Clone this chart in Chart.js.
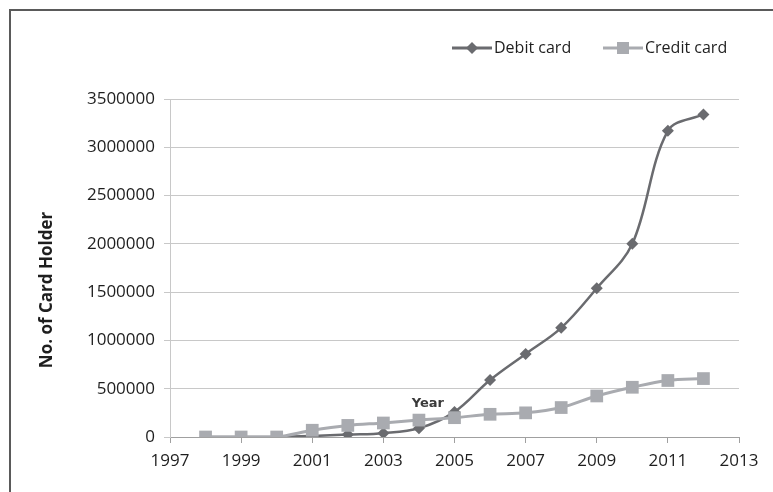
<!DOCTYPE html>
<html>
<head>
<meta charset="utf-8">
<script src="https://cdn.jsdelivr.net/npm/chart.js@4"></script>
<style>
    html, body { margin: 0; padding: 0; background: #fff; }
    #wrap { position: relative; width: 773px; height: 492px; }
    #frame {
        position: absolute; left: 9px; top: 9px; right: 0; bottom: 0;
        border-top: 2px solid #5a5a5a; border-left: 2px solid #5a5a5a;
        pointer-events: none;
    }
</style>
</head>
<body>
<div id="wrap">
    <canvas id="cardChart" width="773" height="492"></canvas>
    <div id="frame"></div>
</div>
<script>
// Card holders per year
const years = [1998, 1999, 2000, 2001, 2002, 2003, 2004, 2005, 2006, 2007, 2008, 2009, 2010, 2011, 2012];
const debitCard = [0, 0, 0, 10000, 25000, 40000, 90000, 260000, 590000, 860000, 1130000, 1540000, 2000000, 3170000, 3340000];
const creditCard = [0, 0, 0, 70000, 120000, 145000, 175000, 200000, 235000, 250000, 305000, 425000, 515000, 585000, 605000];

const seriesNames = ["Debit card", "Credit card"];
const yTitle = "No. of Card Holder";
const xTitle = "Year";

const debitColor = "#6a6b6f";
const creditColor = "#a9abb0";
const tickFont = { family: "Open Sans", size: 17 };

function toPoints(values) {
    return years.map((yr, i) => ({ x: yr, y: values[i] }));
}

// Legend, axis title and the "Year" caption drawn by hand
const extras = {
    id: "extras",
    afterDraw(chart) {
        const ctx = chart.ctx;
        const { x, y } = chart.scales;
        ctx.save();

        // legend: line with marker, then the name
        const items = [
            { name: seriesNames[0], color: debitColor, left: 452, marker: "diamond" },
            { name: seriesNames[1], color: creditColor, left: 603, marker: "square" }
        ];
        const ly = 48;
        items.forEach(it => {
            ctx.strokeStyle = it.color;
            ctx.lineWidth = 3;
            ctx.beginPath();
            ctx.moveTo(it.left, ly);
            ctx.lineTo(it.left + 40, ly);
            ctx.stroke();
            ctx.fillStyle = it.color;
            const cx = it.left + 20;
            ctx.beginPath();
            if (it.marker === "diamond") {
                ctx.moveTo(cx, ly - 6);
                ctx.lineTo(cx + 6, ly);
                ctx.lineTo(cx, ly + 6);
                ctx.lineTo(cx - 6, ly);
            } else {
                ctx.rect(cx - 6, ly - 6, 12, 12);
            }
            ctx.closePath();
            ctx.fill();
            ctx.fillStyle = "#1e1e1e";
            ctx.font = "16px 'Open Sans'";
            ctx.textAlign = "left";
            ctx.textBaseline = "middle";
            ctx.fillText(it.name, it.left + 42, ly);
        });

        // y axis title
        ctx.translate(47, 290);
        ctx.rotate(-Math.PI / 2);
        ctx.font = "bold 17px 'Open Sans'";
        ctx.fillStyle = "#1e1e1e";
        ctx.textAlign = "center";
        ctx.textBaseline = "middle";
        ctx.fillText(yTitle, 0, 0);
        ctx.setTransform(1, 0, 0, 1, 0, 0);

        // x axis caption sits inside the plot
        ctx.font = "bold 13px 'DejaVu Sans'";
        ctx.fillStyle = "#3a3a3a";
        ctx.textAlign = "center";
        ctx.textBaseline = "middle";
        ctx.fillText(xTitle, x.getPixelForValue(2004.25), y.getPixelForValue(350000));
        ctx.restore();
    }
};

new Chart(document.getElementById("cardChart"), {
    type: "line",
    data: {
        datasets: [
            {
                label: seriesNames[0],
                data: toPoints(debitCard),
                borderColor: debitColor,
                backgroundColor: debitColor,
                borderWidth: 2.5,
                pointStyle: "rectRot",
                pointRadius: 6,
                pointBorderWidth: 0,
                tension: 0.35,
                order: 2
            },
            {
                label: seriesNames[1],
                data: toPoints(creditCard),
                borderColor: creditColor,
                backgroundColor: creditColor,
                borderWidth: 3,
                pointStyle: "rect",
                pointRadius: 9,
                pointBorderWidth: 0,
                tension: 0.35,
                order: 1
            }
        ]
    },
    options: {
        responsive: false,
        animation: false,
        layout: { padding: { left: 70, right: 34, top: 99, bottom: 0 } },
        plugins: {
            legend: { display: false },
            tooltip: { enabled: false }
        },
        scales: {
            x: {
                type: "linear",
                min: 1997,
                max: 2013,
                ticks: { stepSize: 2, color: "#1e1e1e", font: tickFont, padding: 8, callback: v => String(v) },
                grid: { drawOnChartArea: false, drawTicks: true, tickLength: 6, color: "#a0a0a0" },
                border: { color: "#a0a0a0", width: 1 },
                afterFit: s => { s.height = 55; }
            },
            y: {
                min: 0,
                max: 3500000,
                ticks: { stepSize: 500000, color: "#1e1e1e", font: tickFont, padding: 9, callback: v => String(v) },
                grid: { color: "#c8c8c8", tickLength: 6, tickColor: "#c8c8c8" },
                border: { color: "#c8c8c8", width: 1 },
                afterFit: s => { s.width = 100; }
            }
        }
    },
    plugins: [extras]
});
</script>
</body>
</html>
